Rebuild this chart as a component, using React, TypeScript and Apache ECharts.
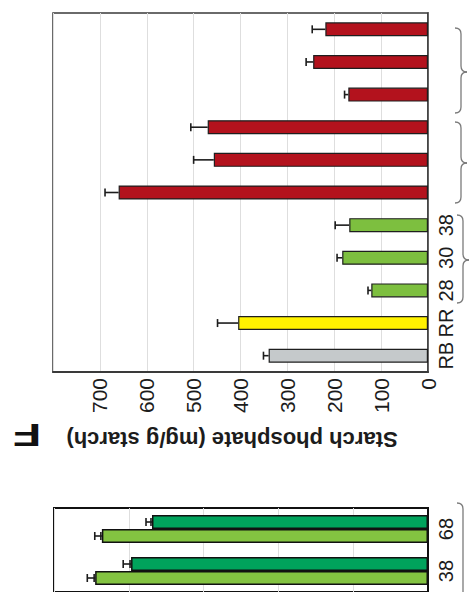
import { useEffect, useRef } from "react";
import * as echarts from "echarts";

// Upper panel: starch phosphate per line, listed from the axis origin outward
const categories = ["RB", "RR", "28", "30", "38", "r1", "r2", "r3", "r4", "r5", "r6"];
const categoryLabels = ["RB", "RR", "28", "30", "38", "", "", "", "", "", ""];
const phosphate = [340, 405, 121, 183, 168, 660, 457, 470, 170, 245, 219];
const phosphateErr = [11, 44, 7, 11, 30, 29, 43, 36, 8, 15, 28];
const barColors = [
  "#c5c9cb",
  "#fff200",
  "#7dbf3f",
  "#7dbf3f",
  "#7dbf3f",
  "#b3121d",
  "#b3121d",
  "#b3121d",
  "#b3121d",
  "#b3121d",
  "#b3121d",
];
const valueTicks = [0, 100, 200, 300, 400, 500, 600, 700];

// Lower panel: paired measurements
const lowerCategories = ["38", "68"];
const lowerDark = [79.4, 73.8];
const lowerDarkErr = [2.1, 1.6];
const lowerLight = [89, 87.2];
const lowerLightErr = [2.1, 1.9];

const FONT = "'Liberation Sans', Arial, sans-serif";
const INK = "#1c1c1c";

function errorBars(
  xAxisIndex: number,
  yAxisIndex: number,
  values: number[],
  errs: number[],
  offset: number,
  bothCaps: boolean
) {
  return {
    type: "custom",
    xAxisIndex,
    yAxisIndex,
    z: 10,
    clip: false,
    encode: { x: 0, y: 1 },
    data: values.map((v, i) => [v, i, errs[i]]),
    renderItem: (_params: any, api: any) => {
      const v = api.value(0);
      const c = api.value(1);
      const e = api.value(2);
      const start = api.coord([v, c]);
      const end = api.coord([v + e, c]);
      const y = start[1] + offset;
      const cap = 4;
      const style = { stroke: INK, lineWidth: 1.6 };
      const children: any[] = [
        { type: "line", shape: { x1: start[0], y1: y, x2: end[0], y2: y }, style },
        { type: "line", shape: { x1: end[0], y1: y - cap, x2: end[0], y2: y + cap }, style },
      ];
      if (bothCaps) {
        children.push({
          type: "line",
          shape: { x1: start[0] - 1, y1: y - cap, x2: start[0] - 1, y2: y + cap },
          style,
        });
      }
      return { type: "group", children };
    },
  };
}

// Curly brace opening to the right, drawn from curves and lines
function brace(x0: number, y1: number, y2: number, tipY: number | null) {
  const stem = x0 + 6;
  const tip = x0 + 12;
  const r = 6;
  const style = { stroke: "#7a7a7a", lineWidth: 1.3, fill: "none" };
  const parts: any[] = [
    { type: "bezierCurve", shape: { x1: x0, y1, cpx1: stem, cpy1: y1, x2: stem, y2: y1 + r }, style },
  ];
  if (tipY !== null) {
    parts.push(
      { type: "line", shape: { x1: stem, y1: y1 + r, x2: stem, y2: tipY - r }, style },
      { type: "bezierCurve", shape: { x1: stem, y1: tipY - r, cpx1: stem, cpy1: tipY, x2: tip, y2: tipY }, style },
      { type: "bezierCurve", shape: { x1: tip, y1: tipY, cpx1: stem, cpy1: tipY, x2: stem, y2: tipY + r }, style },
      { type: "line", shape: { x1: stem, y1: tipY + r, x2: stem, y2: y2 - r }, style },
      { type: "bezierCurve", shape: { x1: stem, y1: y2 - r, cpx1: stem, cpy1: y2, x2: x0, y2 }, style }
    );
  } else {
    parts.push({ type: "line", shape: { x1: stem, y1: y1 + r, x2: stem, y2: y2 }, style });
  }
  return { type: "group", children: parts, silent: true };
}

export default function App() {
  const ref = useRef<HTMLDivElement>(null);

  useEffect(() => {
    if (!ref.current) return;
    const chart = echarts.init(ref.current, undefined, { renderer: "svg" });

    const option: any = {
      animation: false,
      backgroundColor: "#ffffff",
      grid: [
        {
          left: 53,
          right: 47,
          top: 13,
          height: 359,
          show: true,
          borderColor: "#3a3a3a",
          borderWidth: 1.5,
        },
        {
          left: 54,
          right: 47,
          top: 508,
          height: 100,
          show: true,
          borderColor: "#111111",
          borderWidth: 2,
        },
      ],
      xAxis: [
        {
          gridIndex: 0,
          type: "value",
          inverse: true,
          min: 0,
          max: 800,
          interval: 100,
          position: "bottom",
          axisLine: { show: true, onZero: false, lineStyle: { color: "#3a3a3a", width: 2 } },
          axisTick: { show: false },
          splitLine: { show: true, lineStyle: { color: "#dedede", width: 1 } },
          axisLabel: {
            rotate: 90,
            fontSize: 21,
            fontFamily: FONT,
            color: INK,
            margin: 6,
            formatter: (v: number) => (valueTicks.includes(v) ? String(v) : ""),
          },
        },
        {
          gridIndex: 1,
          type: "value",
          inverse: true,
          min: 0,
          max: 100,
          interval: 20,
          axisLine: { show: false },
          axisTick: { show: false },
          axisLabel: { show: false },
          splitLine: { show: true, lineStyle: { color: "#dedede", width: 1 } },
        },
      ],
      yAxis: [
        {
          gridIndex: 0,
          type: "category",
          data: categories,
          position: "right",
          axisLine: { show: true, onZero: false, lineStyle: { color: "#3a3a3a", width: 1.5 } },
          axisTick: { show: false },
          splitLine: { show: false },
          axisLabel: {
            rotate: 90,
            fontSize: 20,
            fontFamily: FONT,
            color: INK,
            margin: 8,
            interval: 0,
            formatter: (_v: string, i: number) => categoryLabels[i],
          },
        },
        {
          gridIndex: 1,
          type: "category",
          data: lowerCategories,
          position: "right",
          axisLine: { show: true, onZero: false, lineStyle: { color: "#111111", width: 2 } },
          axisTick: { show: false },
          splitLine: { show: false },
          axisLabel: {
            rotate: 90,
            fontSize: 20,
            fontFamily: FONT,
            color: INK,
            margin: 8,
            interval: 0,
          },
        },
      ],
      series: [
        {
          type: "bar",
          xAxisIndex: 0,
          yAxisIndex: 0,
          barWidth: 14,
          data: phosphate.map((v, i) => ({
            value: v,
            itemStyle: { color: barColors[i] },
          })),
          itemStyle: { borderColor: "#1e1e1e", borderWidth: 1.2 },
        },
        errorBars(0, 0, phosphate, phosphateErr, 0, false),
        {
          type: "bar",
          xAxisIndex: 1,
          yAxisIndex: 1,
          barWidth: 14,
          barGap: "0%",
          data: lowerDark,
          itemStyle: { color: "#00a35c", borderColor: "#111111", borderWidth: 1.5 },
        },
        {
          type: "bar",
          xAxisIndex: 1,
          yAxisIndex: 1,
          barWidth: 14,
          barGap: "0%",
          data: lowerLight,
          itemStyle: { color: "#83c341", borderColor: "#111111", borderWidth: 1.5 },
        },
        errorBars(1, 1, lowerDark, lowerDarkErr, -7, true),
        errorBars(1, 1, lowerLight, lowerLightErr, 7, true),
      ],
      graphic: [
        {
          type: "text",
          x: 232,
          y: 439,
          rotation: Math.PI,
          silent: true,
          style: {
            text: "Starch phosphate (mg/g starch)",
            fontSize: 22,
            fontWeight: "bold",
            fontFamily: FONT,
            fill: INK,
            align: "center",
            verticalAlign: "middle",
          },
        },
        {
          type: "text",
          x: 27,
          y: 435,
          rotation: Math.PI,
          scaleX: 1.45,
          silent: true,
          style: {
            text: "F",
            fontSize: 32,
            fontWeight: "bold",
            fontFamily: FONT,
            fill: "#111111",
            align: "center",
            verticalAlign: "middle",
          },
        },
        brace(455, 28, 113, 72),
        brace(455, 122, 203, 163),
        brace(457, 215, 303, 260),
        brace(457, 503, 600, null),
      ],
    };

    chart.setOption(option);
    return () => chart.dispose();
  }, []);

  return (
    <div
      ref={ref}
      style={{
        position: "absolute",
        left: 0,
        top: 0,
        width: 475,
        height: 592,
        background: "#ffffff",
      }}
    />
  );
}
